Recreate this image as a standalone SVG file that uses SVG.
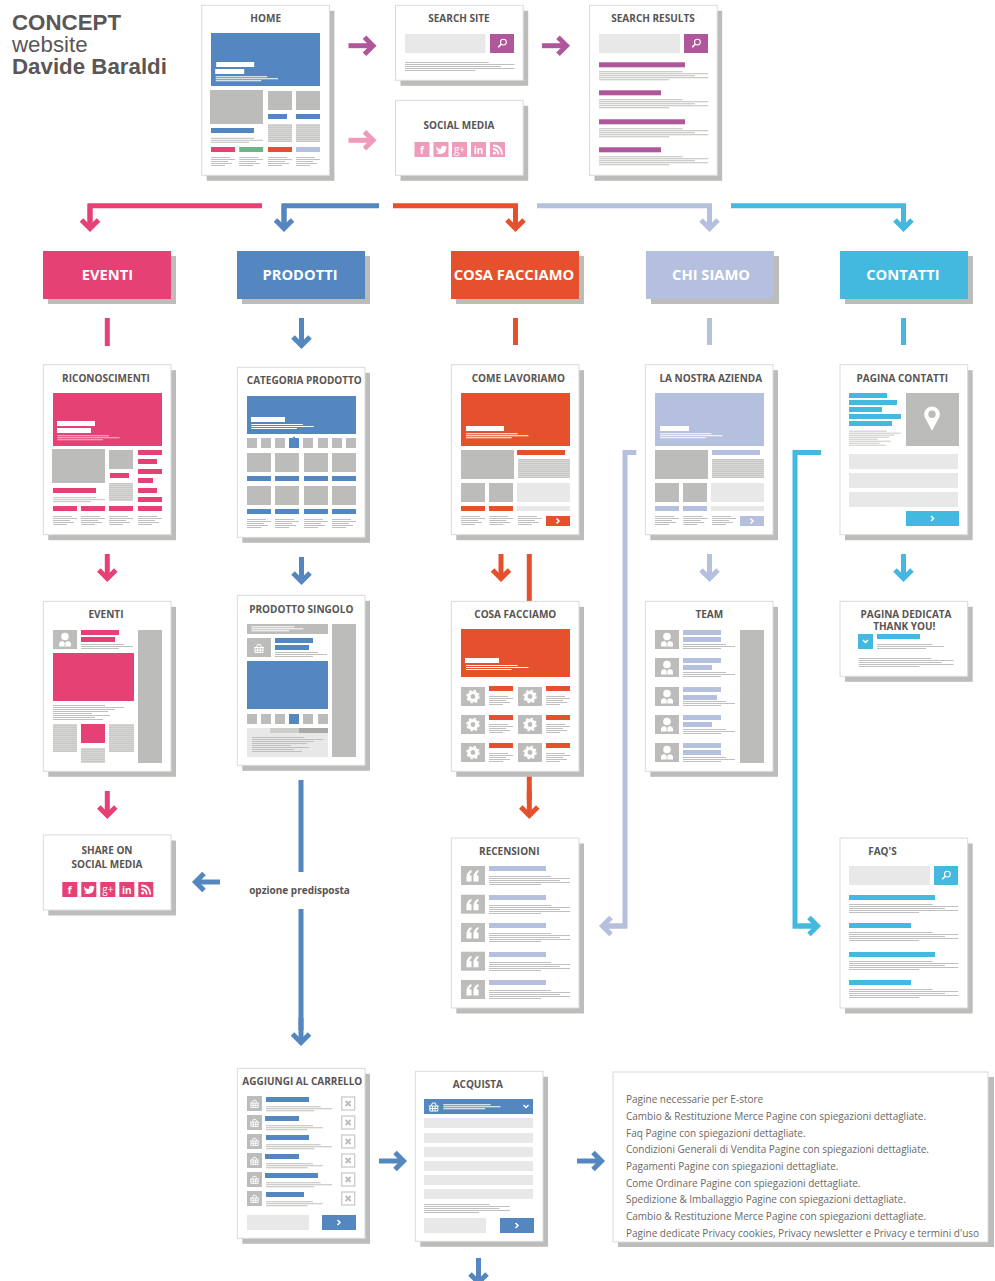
<svg xmlns="http://www.w3.org/2000/svg" width="995" height="1281" viewBox="0 0 995 1281">
<style>
text{font-family:"Open Sans","Liberation Sans",sans-serif}
.tt{font-size:10px;font-weight:700;fill:#575453;text-anchor:middle}
.hd{font-size:14.700px;font-weight:700;fill:#fff;text-anchor:middle}
.big{font-family:"Liberation Sans",Arial,sans-serif;font-size:22.300px;fill:#5a5756}
.body{font-size:10px;fill:#6a6866}
.so{font-size:10px;font-weight:700;fill:#575453;text-anchor:middle}
.sg{font-size:10px;font-weight:700;fill:#fff;text-anchor:middle}
.sh{fill:#bcbcba}
.pg{fill:#fff;stroke:#dadada;stroke-width:1}
.g{fill:#bcbcba}
.lt{fill:#e8e8e8}
.a{fill:currentColor}
.w{fill:#fff}
.l{stroke:#bfbfbd;fill:none;stroke-width:1}
.wl{stroke:#fff;fill:none;stroke-width:1}
.wa{stroke:#fff;fill:none;stroke-width:1.500}
.ar{stroke:currentColor;fill:none;stroke-width:5}
.pink{color:#e64174}.blue{color:#5486bf}.red{color:#e5502d}.lav{color:#b5bfde}.cy{color:#43b9e0}.pur{color:#b0569a}.lp{color:#ef9bbb}
</style>
<defs>
<pattern id="hatch" width="4" height="2" patternUnits="userSpaceOnUse"><rect width="4" height="1" fill="#bdbdbb"/><rect y="1" width="4" height="1" fill="#e2e2e0"/></pattern>
<g id="c170"><rect class="sh" x="5" y="5.500" width="127.700" height="170"/><rect class="pg" width="127.700" height="170"/></g>
<g id="c75"><rect class="sh" x="5" y="5.500" width="127.700" height="75"/><rect class="pg" width="127.700" height="75"/></g>
<path id="l5" d="M0 .5H43M0 2.500H52M0 4.500H38"/>
<path id="l4" d="M0 .5H19M0 2.500H24M0 4.500H17M0 6.500H21M0 8.500H14"/>
<path id="l9" d="M0 .5H62M0 2.500H81M0 4.500H71M0 6.500H81M0 8.500H52"/>
<path id="l15" d="M0 .5H52M0 2.500H71M0 4.500H62M0 6.500H55M0 8.500H39M0 10.500H57M0 12.500H42M0 14.500H50"/>
<g id="ad"><path d="M0 0V25"/><path d="M-8.500 16L0 24.500L8.500 16"/></g>
<path id="chev" class="wa" d="M-1.500-2.500L1 0L-1.500 2.500"/>
<g id="person"><circle class="w" cy="-3" r="3.800"/><path class="w" d="M-6 7V4.400Q-6 2-2.400 1.400L0 3.400L2.400 1.400Q6 2 6 4.400V7Z"/><path d="M0 3.600V7" stroke="#bcbcba" stroke-width=".8"/></g>
<g id="basket" fill="none" stroke="#fff" stroke-width="1"><path d="M-5-.5H5M-4-.5V4.500H4V-.5M-3.800 2H3.800M-1.300-.5V4.500M1.300-.5V4.500M-2.600-.5L-1.400-3.500H1.400L2.600-.5"/></g>
<g id="gear" fill="none" stroke="#fff"><circle r="4" stroke-width="3.200"/><circle r="6" stroke-width="1.600" stroke-dasharray="2.400 2.300"/></g>
<g id="quote"><path class="w" d="M-1.500 -5.500Q-6.500 -4-6.500 2V6H-1.500V0H-3.500Q-3.500-2.500-1.500-3.300ZM5.500 -5.500Q.5 -4 .5 2V6H5.500V0H3.500Q3.500-2.500 5.500-3.300Z"/></g>
<g id="xb"><rect class="pg" x=".7" y=".7" width="13" height="13" style="stroke:#cfcfcf;stroke-width:1.400"/><path d="M4.700 4.700L9.700 9.700M9.700 4.700L4.700 9.700" stroke="#bcbcba" stroke-width="1.800" fill="none"/></g>
<g id="mag" fill="none" stroke="#fff"><circle cx="1.400" cy="-1.400" r="2.900" stroke-width="1.100"/><path d="M-.8.8L-3.800 3.800" stroke-width="1.600"/></g>
<g id="s-f"><rect class="a" width="15" height="15"/><text class="sg" x="7.500" y="11.500" font-size="11">f</text></g>
<g id="s-t"><rect class="a" width="15" height="15"/><path class="w" d="M2.500 4.500Q5 7 7.500 7Q7.500 3.800 10 3.800Q11.200 3.800 12 4.600L13.400 4.200L12.500 5.600L13.400 5.400L12.500 6.500Q12.500 11.500 6.500 12Q4 12 2.500 11Q4.500 11 5.500 10Q3.500 9.500 3.200 8.300H4.300Q2.700 7.500 2.700 6.200L3.800 6.400Q2.200 5.800 2.500 4.500Z"/></g>
<g id="s-g"><rect class="a" width="15" height="15"/><text class="sg" x="7.500" y="11" style="font-weight:400">g+</text></g>
<g id="s-l"><rect class="a" width="15" height="15"/><text class="sg" x="7.500" y="11.500">in</text></g>
<g id="s-r"><rect class="a" width="15" height="15"/><circle class="w" cx="4.300" cy="11" r="1.500"/><path d="M3 7Q8 7 8.500 12.500M3 3.500Q11.500 3.500 12 12.500" fill="none" stroke="#fff" stroke-width="1.800"/></g>
</defs>

<g id="page-title">
<text class="big" x="12" y="29.500" style="font-weight:700">CONCEPT</text>
<text class="big" x="12" y="51.500">website</text>
<text class="big" x="12" y="74" style="font-weight:700">Davide Baraldi</text>
</g>

<g id="connectors">
<g class="pur"><use href="#ad" class="ar" transform="translate(348.500,45.700) rotate(-90)"/><use href="#ad" class="ar" transform="translate(542,45.700) rotate(-90)"/></g>
<g class="lp"><use href="#ad" class="ar" transform="translate(348.500,140.300) rotate(-90)"/></g>
<g class="pink"><path class="ar" d="M262 205.700H90V228"/><use href="#ad" class="ar" transform="translate(90,204)"/><path class="ar" d="M107.300 318V346"/><use href="#ad" class="ar" transform="translate(107.300,554)"/><use href="#ad" class="ar" transform="translate(107.300,791)"/></g>
<g class="blue"><path class="ar" d="M379 205.700H284V228"/><use href="#ad" class="ar" transform="translate(284,204)"/><path class="ar" d="M301.500 318V330"/><use href="#ad" class="ar" transform="translate(301.500,321)"/><use href="#ad" class="ar" transform="translate(301.500,557)"/><path class="ar" d="M301 780V872M301 909V1030"/><use href="#ad" class="ar" transform="translate(301,1018)"/><use href="#ad" class="ar" transform="translate(220,882) rotate(90)"/><use href="#ad" class="ar" transform="translate(379,1161) rotate(-90)"/><use href="#ad" class="ar" transform="translate(577,1161) rotate(-90)"/><use href="#ad" class="ar" transform="translate(478.500,1258)"/></g>
<g class="red"><path class="ar" d="M393 205.700H515.500V228"/><use href="#ad" class="ar" transform="translate(515.500,204)"/><path class="ar" d="M515.500 318V345"/><use href="#ad" class="ar" transform="translate(501,554)"/><path class="ar" d="M529.300 554V610M529.300 770V800"/><use href="#ad" class="ar" transform="translate(529.300,791)"/></g>
<g class="lav"><path class="ar" d="M537 205.700H709.500V228"/><use href="#ad" class="ar" transform="translate(709.500,204)"/><path class="ar" d="M709.500 318V345"/><use href="#ad" class="ar" transform="translate(709.500,554)"/><path class="ar" d="M636.300 452.500H625V926H605"/><use href="#ad" class="ar" transform="translate(627,926) rotate(90)"/></g>
<g class="cy"><path class="ar" d="M731 205.700H903.500V228"/><use href="#ad" class="ar" transform="translate(903.500,204)"/><path class="ar" d="M903.500 318V345"/><use href="#ad" class="ar" transform="translate(903.500,554)"/><path class="ar" d="M821 452.500H795V926H815"/><use href="#ad" class="ar" transform="translate(793,926) rotate(-90)"/></g>
<text class="so" x="299.500" y="893.500">opzione predisposta</text>
</g>

<g id="node-home" transform="translate(201.700,5.300)" class="blue"><use href="#c170"/>
<text class="tt" x="64" y="16.500">HOME</text>
<rect class="a" x="9.300" y="27.700" width="109" height="53"/>
<rect class="w" x="14.500" y="56.700" width="38" height="5"/><rect class="w" x="13.500" y="63.700" width="29" height="5"/>
<use href="#l5" class="wl" transform="translate(14,71) scale(1.200,1)"/>
<rect class="g" x="8.300" y="84.700" width="53" height="34"/>
<rect class="g" x="66.300" y="85.700" width="24" height="19"/><rect class="g" x="94.300" y="85.700" width="24" height="19"/>
<rect class="a" x="66.300" y="108.700" width="19" height="5"/><rect class="a" x="94.300" y="108.700" width="24" height="5"/>
<rect x="66.300" y="118.700" width="24" height="18" fill="url(#hatch)"/><rect x="94.300" y="118.700" width="24" height="18" fill="url(#hatch)"/>
<rect class="a" x="9.300" y="122.700" width="43" height="5"/><use href="#l5" class="l" transform="translate(9.300,132.500)"/>
<rect x="9.300" y="141.700" width="24" height="5" fill="#e64174"/><rect x="37.500" y="141.700" width="24" height="5" fill="#6db588"/><rect x="66.300" y="141.700" width="24" height="5" fill="#e5502d"/><rect x="94.300" y="141.700" width="24" height="5" fill="#b5bfde"/>
<use href="#l4" class="l" transform="translate(9.300,151.700)"/><use href="#l4" class="l" transform="translate(37.500,151.700)"/><use href="#l4" class="l" transform="translate(66.300,151.700)"/><use href="#l4" class="l" transform="translate(94.300,151.700)"/>
</g>

<g id="node-search-site" transform="translate(395.500,5.300)" class="pur"><use href="#c75"/>
<text class="tt" x="63.500" y="16.500">SEARCH SITE</text>
<rect class="lt" x="9.500" y="28.700" width="80.500" height="19"/><rect class="a" x="94.500" y="28.700" width="24" height="19"/><use href="#mag" transform="translate(106.500,38.200)"/>
<use href="#l9" class="l" transform="translate(9.500,56.700) scale(1.350,1)"/>
</g>

<g id="node-social-media" transform="translate(395.500,100.300)" class="lp"><use href="#c75"/>
<text class="tt" x="63.500" y="28.500">SOCIAL MEDIA</text>
<use href="#s-f" x="19" y="41.700"/><use href="#s-t" x="38" y="41.700"/><use href="#s-g" x="56.500" y="41.700"/><use href="#s-l" x="75.500" y="41.700"/><use href="#s-r" x="94.500" y="41.700"/>
</g>

<g id="node-search-results" transform="translate(589.500,5.300)" class="pur"><use href="#c170"/>
<text class="tt" x="63.500" y="16.500">SEARCH RESULTS</text>
<rect class="lt" x="9.500" y="28.700" width="81" height="19"/><rect class="a" x="94.500" y="28.700" width="24" height="19"/><use href="#mag" transform="translate(106.500,38.200)"/>
<rect class="a" x="9.500" y="57" width="86" height="5"/><use href="#l9" class="l" transform="translate(9.500,66) scale(1.350,1)"/>
<rect class="a" x="9.500" y="85" width="62" height="5"/><use href="#l9" class="l" transform="translate(9.500,94) scale(1.350,1)"/>
<rect class="a" x="9.500" y="114" width="86" height="5"/><use href="#l9" class="l" transform="translate(9.500,123) scale(1.350,1)"/>
<rect class="a" x="9.500" y="142" width="62" height="5"/><use href="#l9" class="l" transform="translate(9.500,151) scale(1.350,1)"/>
</g>

<g id="node-eventi-head" class="pink"><rect class="sh" x="48" y="256" width="128" height="48"/><rect class="a" x="43" y="251" width="128" height="48"/><text class="hd" x="107.500" y="280">EVENTI</text></g>
<g id="node-prodotti-head" class="blue"><rect class="sh" x="242" y="256" width="128" height="48"/><rect class="a" x="237" y="251" width="128" height="48"/><text class="hd" x="300" y="280">PRODOTTI</text></g>
<g id="node-cosa-head" class="red"><rect class="sh" x="456" y="256" width="128" height="48"/><rect class="a" x="451" y="251" width="128" height="48"/><text class="hd" x="514" y="280">COSA FACCIAMO</text></g>
<g id="node-chi-head" class="lav"><rect class="sh" x="651" y="256" width="128" height="48"/><rect class="a" x="646" y="251" width="128" height="48"/><text class="hd" x="711" y="280">CHI SIAMO</text></g>
<g id="node-contatti-head" class="cy"><rect class="sh" x="845" y="256" width="128" height="48"/><rect class="a" x="840" y="251" width="128" height="48"/><text class="hd" x="903" y="280">CONTATTI</text></g>

<g id="node-riconoscimenti" transform="translate(43.300,364.700)" class="pink"><use href="#c170"/>
<text class="tt" x="62.700" y="17.300">RICONOSCIMENTI</text>
<rect class="a" x="9.700" y="28.300" width="109" height="53"/>
<rect class="w" x="13.700" y="56.300" width="38" height="5"/><rect class="w" x="13.700" y="63.300" width="34" height="5"/>
<use href="#l5" class="wl" transform="translate(14,70.500) scale(1.200,1)" opacity=".65"/>
<rect class="g" x="8.700" y="84.300" width="53" height="34"/>
<rect class="g" x="65.700" y="85.300" width="24" height="19"/><rect class="a" x="66.700" y="108.300" width="19" height="5"/><rect x="65.700" y="118.300" width="24" height="18" fill="url(#hatch)"/>
<rect class="a" x="94.700" y="85.300" width="24" height="5"/><rect class="a" x="94.700" y="94.300" width="19" height="5"/><rect class="a" x="94.700" y="104.300" width="24" height="5"/><rect class="a" x="94.700" y="113.300" width="15" height="5"/><rect class="a" x="94.700" y="123.300" width="19" height="5"/><rect class="a" x="94.700" y="132.300" width="24" height="5"/>
<rect class="a" x="9.700" y="123.300" width="43" height="5"/><use href="#l5" class="l" transform="translate(9.700,132.500)"/>
<rect class="a" x="9.700" y="141.300" width="24" height="5"/><rect class="a" x="37.700" y="141.300" width="24" height="5"/><rect class="a" x="65.700" y="141.300" width="24" height="5"/><rect class="a" x="94.700" y="141.300" width="24" height="5"/>
<use href="#l4" class="l" transform="translate(9.700,151.300)"/><use href="#l4" class="l" transform="translate(37.700,151.300)"/><use href="#l4" class="l" transform="translate(65.700,151.300)"/><use href="#l4" class="l" transform="translate(94.700,151.300)"/>
</g>

<g id="node-categoria" transform="translate(237.300,367.300)" class="blue"><use href="#c170"/>
<text class="tt" x="67" y="16.700">CATEGORIA PRODOTTO</text>
<rect class="a" x="9.700" y="28.700" width="109" height="38"/><rect class="w" x="13.700" y="49.700" width="34" height="5"/><use href="#l5" class="wl" transform="translate(14,56.700) scale(1.200,1)"/>
<rect class="g" x="9.700" y="70.700" width="10" height="10"/><rect class="g" x="23.700" y="70.700" width="10" height="10"/><rect class="g" x="37.700" y="70.700" width="10" height="10"/><rect class="a" x="51.700" y="70.700" width="10" height="10"/><path class="a" d="M55.200 70.700L56.700 69L58.200 70.700Z"/><rect class="g" x="65.700" y="70.700" width="10" height="10"/><rect class="g" x="80.700" y="70.700" width="10" height="10"/><rect class="g" x="94.700" y="70.700" width="10" height="10"/><rect class="g" x="108.700" y="70.700" width="10" height="10"/>
<rect class="g" x="9.700" y="85.700" width="24" height="19"/><rect class="g" x="37.700" y="85.700" width="24" height="19"/><rect class="g" x="66.700" y="85.700" width="24" height="19"/><rect class="g" x="94.700" y="85.700" width="24" height="19"/>
<rect class="a" x="9.700" y="108.700" width="24" height="5"/><rect class="a" x="37.700" y="108.700" width="24" height="5"/><rect class="a" x="66.700" y="108.700" width="24" height="5"/><rect class="a" x="94.700" y="108.700" width="24" height="5"/>
<rect class="g" x="9.700" y="118.700" width="24" height="19"/><rect class="g" x="37.700" y="118.700" width="24" height="19"/><rect class="g" x="66.700" y="118.700" width="24" height="19"/><rect class="g" x="94.700" y="118.700" width="24" height="19"/>
<rect class="a" x="9.700" y="141.700" width="24" height="5"/><rect class="a" x="37.700" y="141.700" width="24" height="5"/><rect class="a" x="66.700" y="141.700" width="24" height="5"/><rect class="a" x="94.700" y="141.700" width="24" height="5"/>
<use href="#l4" class="l" transform="translate(9.700,151.700)"/><use href="#l4" class="l" transform="translate(37.700,151.700)"/><use href="#l4" class="l" transform="translate(66.700,151.700)"/><use href="#l4" class="l" transform="translate(94.700,151.700)"/>
</g>

<g id="node-come-lavoriamo" transform="translate(451.300,364.700)" class="red"><use href="#c170"/>
<text class="tt" x="67" y="17.300">COME LAVORIAMO</text>
<rect class="a" x="9.700" y="28.300" width="109" height="53"/><rect class="w" x="14.700" y="61.300" width="38" height="5"/><use href="#l5" class="wl" transform="translate(14.700,68.500) scale(1.200,1)"/>
<rect class="g" x="9.700" y="85.300" width="53" height="29"/><rect class="a" x="65.700" y="85.300" width="48" height="5"/><rect x="66.700" y="94.300" width="52" height="19" fill="url(#hatch)"/>
<rect class="g" x="9.700" y="118.300" width="24" height="19"/><rect class="g" x="37.700" y="118.300" width="24" height="19"/><rect class="lt" x="65.700" y="118.300" width="53" height="19"/>
<rect class="a" x="9.700" y="141.300" width="24" height="5"/><rect class="a" x="37.700" y="141.300" width="24" height="5"/><rect class="lt" x="65.700" y="141.300" width="53" height="5"/>
<use href="#l4" class="l" transform="translate(9.700,151.300)"/><use href="#l4" class="l" transform="translate(38,151.300)"/><use href="#l4" class="l" transform="translate(66.700,151.300)"/>
<rect class="a" x="94.700" y="151.300" width="24" height="10"/><use href="#chev" transform="translate(106.700,156.300)"/>
</g>

<g id="node-nostra-azienda" transform="translate(645.300,364.700)" class="lav"><use href="#c170"/>
<text class="tt" x="65.500" y="17.300">LA NOSTRA AZIENDA</text>
<rect class="a" x="9.700" y="28.300" width="109" height="53"/><rect class="w" x="14.700" y="61.300" width="29" height="5"/><use href="#l5" class="wl" transform="translate(14.700,68.500) scale(1.200,1)"/>
<rect class="g" x="9.700" y="85.300" width="53" height="29"/><rect class="a" x="66.700" y="85.300" width="48" height="5"/><rect x="66.700" y="94.300" width="52" height="19" fill="url(#hatch)"/>
<rect class="g" x="9.700" y="118.300" width="24" height="19"/><rect class="g" x="37.700" y="118.300" width="24" height="19"/><rect class="lt" x="65.700" y="118.300" width="53" height="19"/>
<rect class="a" x="9.700" y="141.300" width="24" height="5"/><rect class="a" x="37.700" y="141.300" width="24" height="5"/><rect class="lt" x="65.700" y="141.300" width="53" height="5"/>
<use href="#l4" class="l" transform="translate(9.700,151.300)"/><use href="#l4" class="l" transform="translate(38,151.300)"/><use href="#l4" class="l" transform="translate(66.700,151.300)"/>
<rect class="a" x="94.700" y="151.300" width="24" height="10"/><use href="#chev" transform="translate(106.700,156.300)"/>
</g>

<g id="node-pagina-contatti" transform="translate(840,364.700)" class="cy"><use href="#c170"/>
<text class="tt" x="62.300" y="17.300">PAGINA CONTATTI</text>
<rect class="a" x="9" y="28.300" width="38" height="5"/><rect class="a" x="9" y="35.300" width="48" height="5"/><rect class="a" x="9" y="42.300" width="33" height="5"/><rect class="a" x="9" y="49.300" width="52" height="5"/><rect class="a" x="9" y="56.300" width="43" height="5"/>
<use href="#l15" class="l" transform="translate(9,66) scale(.730,1)"/>
<rect class="g" x="66" y="28.300" width="53" height="53"/><path class="w" d="M92 66L85 53A7.800 7.800 0 1 1 99 53Z"/><circle class="g" cx="92" cy="49.500" r="3.700"/>
<rect class="lt" x="9" y="89.300" width="109" height="15"/><rect class="lt" x="9" y="108.300" width="109" height="15"/><rect class="lt" x="9" y="127.300" width="109" height="15"/>
<rect class="a" x="66" y="146.300" width="53" height="15"/><use href="#chev" transform="translate(92.500,153.800)"/>
</g>

<g id="node-eventi" transform="translate(43.300,601.300)" class="pink"><use href="#c170"/>
<text class="tt" x="62.700" y="16.700">EVENTI</text>
<rect class="g" x="9.700" y="28.700" width="24" height="19"/><use href="#person" transform="translate(21.700,38.200)"/>
<rect class="a" x="37.700" y="28.700" width="38" height="5"/><rect class="a" x="37.700" y="35.700" width="34" height="5"/><use href="#l5" class="l" transform="translate(37.700,42.700)"/>
<rect class="a" x="9.700" y="51.700" width="81" height="48"/>
<use href="#l15" class="l" transform="translate(9.700,103.700)"/>
<rect x="9.700" y="122.700" width="24" height="28" fill="url(#hatch)"/><rect class="a" x="37.700" y="122.700" width="24" height="19"/><rect x="65.700" y="122.700" width="25" height="28" fill="url(#hatch)"/><rect x="37.700" y="146.700" width="24" height="15" fill="url(#hatch)"/>
<rect class="g" x="94.700" y="28.700" width="24" height="133"/>
</g>

<g id="node-prodotto-singolo" transform="translate(237.300,595.300)" class="blue"><use href="#c170"/>
<text class="tt" x="64" y="17.700">PRODOTTO SINGOLO</text>
<rect class="g" x="9.700" y="28.700" width="81" height="10"/><use href="#l5" class="wl" transform="translate(14,31)"/>
<rect class="g" x="9.700" y="42.700" width="24" height="19"/><use href="#basket" transform="translate(21.700,52.700)"/>
<rect class="a" x="37.700" y="42.700" width="38" height="5"/><rect class="a" x="37.700" y="49.700" width="34" height="5"/><use href="#l5" class="l" transform="translate(37.700,56.700)"/>
<rect class="a" x="9.700" y="65.700" width="81" height="48"/>
<rect class="g" x="9.700" y="118.700" width="10" height="10"/><rect class="g" x="23.700" y="118.700" width="10" height="10"/><rect class="g" x="37.700" y="118.700" width="10" height="10"/><rect class="a" x="51.700" y="118.700" width="10" height="10"/><rect class="g" x="65.700" y="118.700" width="10" height="10"/><rect class="g" x="80.700" y="118.700" width="10" height="10"/>
<rect class="lt" x="9.700" y="132.700" width="81" height="29"/><rect x="32.700" y="132.700" width="29" height="5" fill="#cdcdcb"/><rect x="61.700" y="132.700" width="29" height="5" fill="#a9a9a7"/>
<use href="#l15" class="l" transform="translate(14.700,141.700)"/>
<rect class="g" x="94.700" y="28.700" width="24" height="133"/>
</g>

<g id="node-cosa-facciamo" transform="translate(451.300,601.300)" class="red"><use href="#c170"/>
<text class="tt" x="64" y="16.700">COSA FACCIAMO</text>
<rect class="a" x="9.700" y="27.700" width="109" height="48"/><rect class="w" x="13.700" y="56.700" width="34" height="5"/><use href="#l5" class="wl" transform="translate(14.700,63.700) scale(1.200,1)"/>
<rect class="g" x="9.700" y="85.700" width="24" height="19"/><use href="#gear" transform="translate(21.700,95.200)"/><rect class="g" x="66.700" y="85.700" width="24" height="19"/><use href="#gear" transform="translate(78.700,95.200)"/>
<rect class="a" x="37.700" y="84.700" width="24" height="5"/><rect class="a" x="94.700" y="84.700" width="24" height="5"/><use href="#l4" class="l" transform="translate(37.700,94.700)"/><use href="#l4" class="l" transform="translate(94.700,94.700)"/>
<rect class="g" x="9.700" y="113.700" width="24" height="19"/><use href="#gear" transform="translate(21.700,123.200)"/><rect class="g" x="66.700" y="113.700" width="24" height="19"/><use href="#gear" transform="translate(78.700,123.200)"/>
<rect class="a" x="37.700" y="113.700" width="24" height="5"/><rect class="a" x="94.700" y="113.700" width="24" height="5"/><use href="#l4" class="l" transform="translate(37.700,122.700)"/><use href="#l4" class="l" transform="translate(94.700,122.700)"/>
<rect class="g" x="9.700" y="141.700" width="24" height="19"/><use href="#gear" transform="translate(21.700,151.200)"/><rect class="g" x="66.700" y="141.700" width="24" height="19"/><use href="#gear" transform="translate(78.700,151.200)"/>
<rect class="a" x="37.700" y="141.700" width="24" height="5"/><rect class="a" x="94.700" y="141.700" width="24" height="5"/><use href="#l4" class="l" transform="translate(37.700,151.700)"/><use href="#l4" class="l" transform="translate(94.700,151.700)"/>
</g>

<g id="node-team" transform="translate(645.300,601.300)" class="lav"><use href="#c170"/>
<text class="tt" x="64" y="16.700">TEAM</text>
<rect class="g" x="9.700" y="28.700" width="24" height="19"/><use href="#person" transform="translate(21.700,38.200)"/><rect class="a" x="37.700" y="28.700" width="38" height="5"/><rect class="a" x="37.700" y="35.700" width="38" height="5"/><use href="#l5" class="l" transform="translate(37.700,42.700)"/>
<rect class="g" x="9.700" y="56.700" width="24" height="19"/><use href="#person" transform="translate(21.700,66.200)"/><rect class="a" x="37.700" y="56.700" width="38" height="5"/><rect class="a" x="37.700" y="63.700" width="29" height="5"/><use href="#l5" class="l" transform="translate(37.700,70.700)"/>
<rect class="g" x="9.700" y="85.700" width="24" height="19"/><use href="#person" transform="translate(21.700,95.200)"/><rect class="a" x="37.700" y="85.700" width="38" height="5"/><rect class="a" x="37.700" y="93.700" width="34" height="5"/><use href="#l5" class="l" transform="translate(37.700,99.700)"/>
<rect class="g" x="9.700" y="113.700" width="24" height="19"/><use href="#person" transform="translate(21.700,123.200)"/><rect class="a" x="37.700" y="113.700" width="38" height="5"/><rect class="a" x="37.700" y="120.700" width="29" height="5"/><use href="#l5" class="l" transform="translate(37.700,127.700)"/>
<rect class="g" x="9.700" y="141.700" width="24" height="19"/><use href="#person" transform="translate(21.700,151.200)"/><rect class="a" x="37.700" y="141.700" width="38" height="5"/><rect class="a" x="37.700" y="148.700" width="38" height="5"/><use href="#l5" class="l" transform="translate(37.700,155.700)"/>
<rect class="g" x="94.700" y="28.700" width="24" height="133"/>
</g>

<g id="node-thank-you" transform="translate(840,601.300)" class="cy"><use href="#c75"/>
<text class="tt" x="66" y="16.700">PAGINA DEDICATA</text><text class="tt" x="64.300" y="28.700">THANK YOU!</text>
<rect class="a" x="18" y="32.700" width="15" height="15"/><use href="#chev" transform="translate(25.500,40.200) rotate(90)"/>
<rect class="a" x="37" y="32.700" width="43" height="5"/><use href="#l5" class="l" transform="translate(37,42.700) scale(1.290,1)"/>
<use href="#l9" class="l" transform="translate(18.700,56.700) scale(1.170,1)"/>
</g>

<g id="node-share" transform="translate(43.300,835)" class="pink"><use href="#c75"/>
<text class="tt" x="63.700" y="19">SHARE ON</text><text class="tt" x="63.700" y="33">SOCIAL MEDIA</text>
<use href="#s-f" x="19" y="47"/><use href="#s-t" x="38" y="47"/><use href="#s-g" x="57" y="47"/><use href="#s-l" x="76" y="47"/><use href="#s-r" x="95" y="47"/>
</g>

<g id="node-recensioni" transform="translate(451.300,838)" class="lav"><use href="#c170"/>
<text class="tt" x="58" y="17">RECENSIONI</text>
<rect class="g" x="9.700" y="28" width="24" height="19"/><use href="#quote" transform="translate(21.700,37.500)"/><rect class="a" x="37.700" y="28" width="57" height="5"/><use href="#l9" class="l" transform="translate(37.700,38)"/>
<rect class="g" x="9.700" y="56.700" width="24" height="19"/><use href="#quote" transform="translate(21.700,66.200)"/><rect class="a" x="37.700" y="57" width="57" height="5"/><use href="#l9" class="l" transform="translate(37.700,67)"/>
<rect class="g" x="9.700" y="85" width="24" height="19"/><use href="#quote" transform="translate(21.700,94.500)"/><rect class="a" x="37.700" y="85" width="57" height="5"/><use href="#l9" class="l" transform="translate(37.700,95)"/>
<rect class="g" x="9.700" y="113.700" width="24" height="19"/><use href="#quote" transform="translate(21.700,123.200)"/><rect class="a" x="37.700" y="114" width="57" height="5"/><use href="#l9" class="l" transform="translate(37.700,124)"/>
<rect class="g" x="9.700" y="142" width="24" height="19"/><use href="#quote" transform="translate(21.700,151.500)"/><rect class="a" x="37.700" y="142" width="57" height="5"/><use href="#l9" class="l" transform="translate(37.700,152)"/>
</g>

<g id="node-faq" transform="translate(840,838)" class="cy"><use href="#c170"/>
<text class="tt" x="42.500" y="17">FAQ'S</text>
<rect class="lt" x="9" y="28" width="81" height="19"/><rect class="a" x="94" y="28" width="24" height="19"/><use href="#mag" transform="translate(106,37.500)"/>
<rect class="a" x="9" y="57" width="86" height="5"/><use href="#l9" class="l" transform="translate(9,66) scale(1.350,1)"/>
<rect class="a" x="9" y="85" width="62" height="5"/><use href="#l9" class="l" transform="translate(9,94) scale(1.350,1)"/>
<rect class="a" x="9" y="114" width="86" height="5"/><use href="#l9" class="l" transform="translate(9,123) scale(1.350,1)"/>
<rect class="a" x="9" y="142" width="62" height="5"/><use href="#l9" class="l" transform="translate(9,151) scale(1.350,1)"/>
</g>

<g id="node-carrello" transform="translate(237.300,1068.300)" class="blue"><use href="#c170"/>
<text class="tt" x="65" y="16.700">AGGIUNGI AL CARRELLO</text>
<rect class="g" x="9.700" y="27.700" width="15" height="15"/><use href="#basket" transform="translate(17.200,35.200) scale(.9)"/><rect class="a" x="28.700" y="28.700" width="43" height="5"/><use href="#l5" class="l" transform="translate(28.700,38) scale(1.270,1)"/><use href="#xb" x="103.700" y="28"/>
<rect class="g" x="9.700" y="46.700" width="15" height="15"/><use href="#basket" transform="translate(17.200,54.200) scale(.9)"/><rect class="a" x="27.700" y="47.700" width="34" height="5"/><use href="#l5" class="l" transform="translate(28.700,57) scale(1.090,1)"/><use href="#xb" x="103.700" y="47"/>
<rect class="g" x="9.700" y="65.700" width="15" height="15"/><use href="#basket" transform="translate(17.200,73.200) scale(.9)"/><rect class="a" x="28.700" y="66.700" width="43" height="5"/><use href="#l5" class="l" transform="translate(28.700,76) scale(1.270,1)"/><use href="#xb" x="103.700" y="66"/>
<rect class="g" x="9.700" y="84.700" width="15" height="15"/><use href="#basket" transform="translate(17.200,92.200) scale(.9)"/><rect class="a" x="27.700" y="85.700" width="34" height="5"/><use href="#l5" class="l" transform="translate(28.700,95) scale(1.090,1)"/><use href="#xb" x="103.700" y="85"/>
<rect class="g" x="9.700" y="103.700" width="15" height="15"/><use href="#basket" transform="translate(17.200,111.200) scale(.9)"/><rect class="a" x="27.700" y="104.700" width="53" height="5"/><use href="#l5" class="l" transform="translate(28.700,114) scale(1.270,1)"/><use href="#xb" x="103.700" y="104"/>
<rect class="g" x="9.700" y="122.700" width="15" height="15"/><use href="#basket" transform="translate(17.200,130.200) scale(.9)"/><rect class="a" x="28.700" y="123.700" width="38" height="5"/><use href="#l5" class="l" transform="translate(28.700,133) scale(1.090,1)"/><use href="#xb" x="103.700" y="123"/>
<rect class="lt" x="9.700" y="146.700" width="62" height="15"/><rect class="a" x="84.700" y="146.700" width="34" height="15"/><use href="#chev" transform="translate(101.700,154.200)"/>
</g>

<g id="node-acquista" transform="translate(415.300,1071.300)" class="blue"><use href="#c170"/>
<text class="tt" x="62.500" y="16.700">ACQUISTA</text>
<rect class="a" x="8.700" y="27.700" width="109" height="15"/><use href="#basket" transform="translate(18.500,35.200)"/><use href="#l5" class="wl" transform="translate(28,33) scale(1.100,1)"/><use href="#chev" transform="translate(110.700,35.200) rotate(90)"/>
<rect class="lt" x="8.700" y="46.700" width="109" height="10"/><rect class="lt" x="8.700" y="61.700" width="109" height="10"/><rect class="lt" x="8.700" y="75.700" width="109" height="10"/><rect class="lt" x="8.700" y="89.700" width="109" height="10"/><rect class="lt" x="8.700" y="103.700" width="109" height="10"/><rect class="lt" x="8.700" y="117.700" width="109" height="10"/>
<use href="#l9" class="l" transform="translate(8.700,132.700) scale(1.060,1)"/>
<rect class="lt" x="8.700" y="146.700" width="62" height="15"/><rect class="a" x="84.700" y="146.700" width="34" height="15"/><use href="#chev" transform="translate(101.700,154.200)"/>
</g>

<g id="node-estore-note">
<rect class="sh" x="618" y="1077" width="376" height="170"/><rect class="pg" x="613" y="1072" width="375" height="170"/>
<text class="body" x="626" y="1103">Pagine necessarie per E-store</text>
<text class="body" x="626" y="1120">Cambio &amp; Restituzione Merce Pagine con spiegazioni dettagliate.</text>
<text class="body" x="626" y="1137">Faq Pagine con spiegazioni dettagliate.</text>
<text class="body" x="626" y="1153">Condizioni Generali di Vendita Pagine con spiegazioni dettagliate.</text>
<text class="body" x="626" y="1170">Pagamenti Pagine con spiegazioni dettagliate.</text>
<text class="body" x="626" y="1187">Come Ordinare Pagine con spiegazioni dettagliate.</text>
<text class="body" x="626" y="1203">Spedizione &amp; Imballaggio Pagine con spiegazioni dettagliate.</text>
<text class="body" x="626" y="1220">Cambio &amp; Restituzione Merce Pagine con spiegazioni dettagliate.</text>
<text class="body" x="626" y="1237">Pagine dedicate Privacy cookies, Privacy newsletter e Privacy e termini d'uso</text>
</g>
</svg>
